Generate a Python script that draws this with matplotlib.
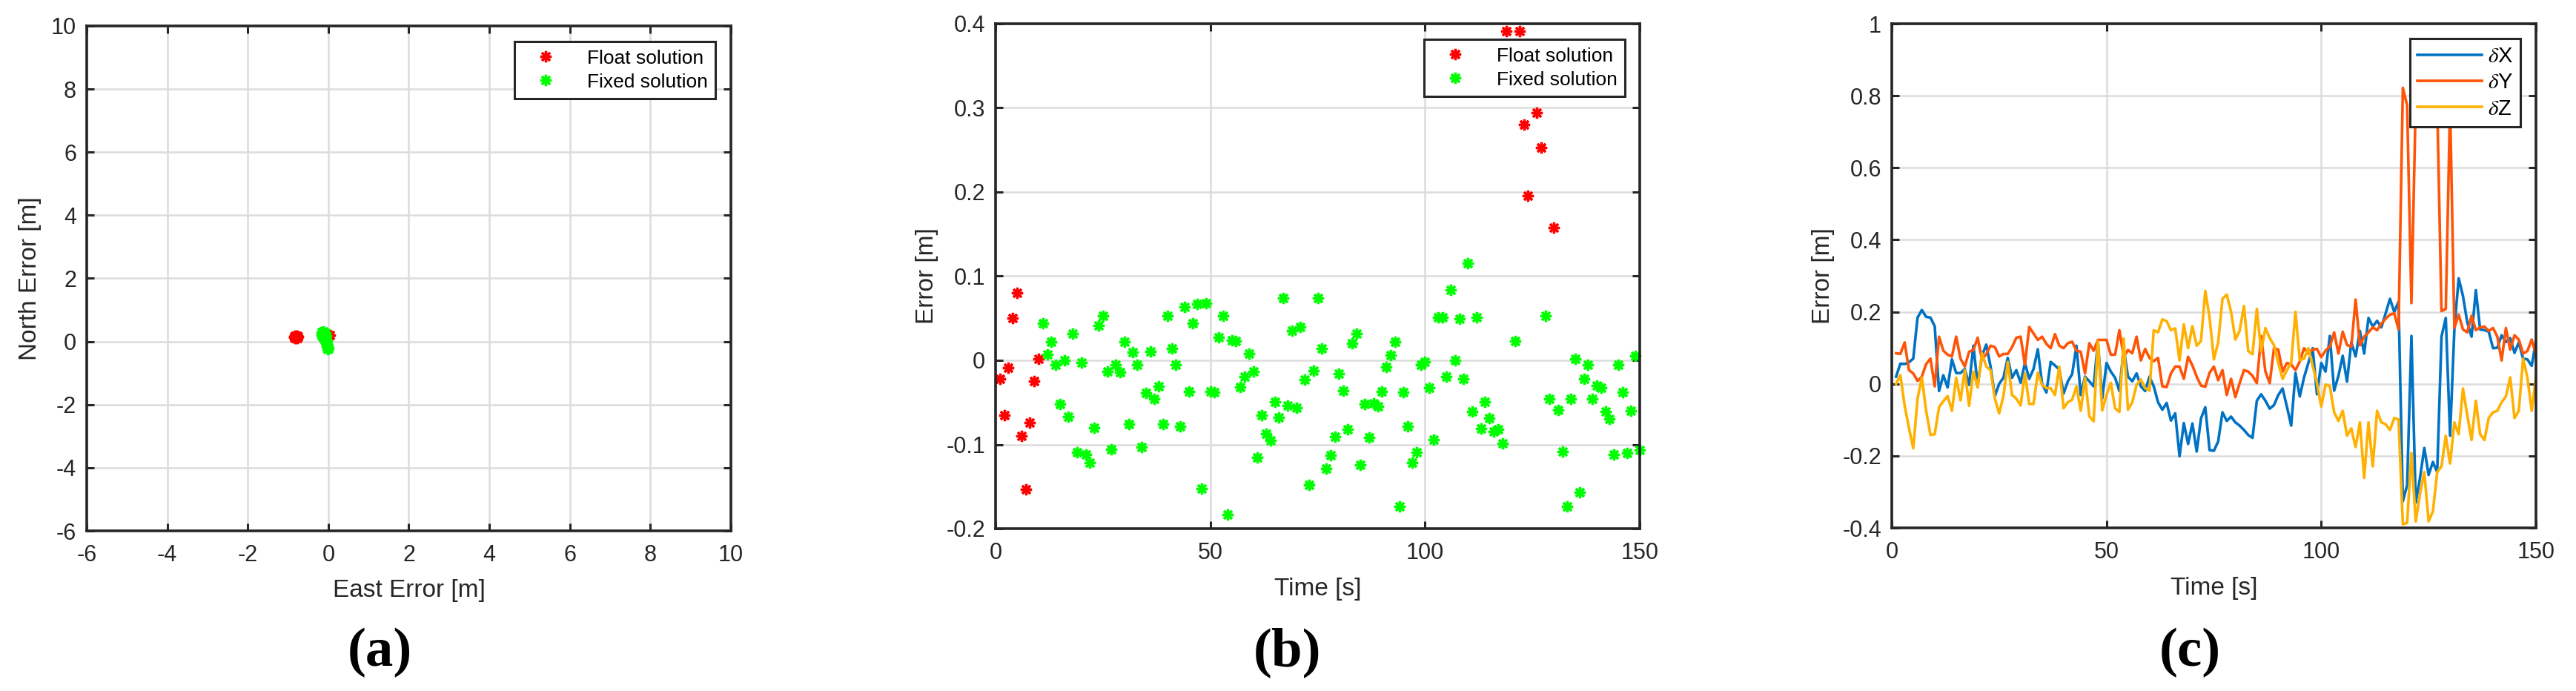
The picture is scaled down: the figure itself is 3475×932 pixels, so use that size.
import numpy as np
import matplotlib
matplotlib.use("Agg")
import matplotlib.pyplot as plt
from matplotlib.ticker import FuncFormatter

plt.rcParams['font.family'] = ['Liberation Sans', 'DejaVu Sans']
plt.rcParams['mathtext.fontset'] = 'stix'
plt.rcParams['axes.unicode_minus'] = False

# (a) east / north error
float_east = [-0.85, -0.80, -0.78, -0.83, -0.76, -0.82, -0.79, -0.81, -0.77, -0.84, 0.03, 0.01, -0.01]
float_north = [0.14, 0.18, 0.12, 0.10, 0.15, 0.17, 0.13, 0.11, 0.19, 0.16, 0.20, 0.17, 0.22]
fixed_east = [-0.17, -0.15, -0.12, -0.10, -0.14, -0.11, -0.08, -0.09, -0.06, -0.07, -0.05,
              -0.04, -0.06, -0.03, -0.02, -0.04, -0.01, 0.0, -0.02, -0.05, -0.13, -0.16]
fixed_north = [0.30, 0.25, 0.33, 0.20, 0.15, 0.10, 0.27, 0.05, 0.0, 0.12, -0.05,
               -0.10, 0.06, -0.15, -0.20, -0.02, -0.25, -0.22, -0.12, 0.18, 0.22, 0.20]

# (b) error vs time
float_t = [1, 2, 3, 4, 5, 6, 7, 8, 9, 10, 119, 122, 123, 124, 126, 127, 130]
float_err = [-0.022, -0.065, -0.009, 0.050, 0.080, -0.090, -0.153, -0.074, -0.025, 0.002,
             0.391, 0.391, 0.280, 0.196, 0.294, 0.253, 0.158]
fixed_t = list(range(11, 119)) + [121, 128, 129] + list(range(131, 151))
fixed_err = [0.044, 0.007, 0.022, -0.005, -0.052, 0.0, -0.067, 0.032, -0.109, -0.003,
             -0.112, -0.122, -0.080, 0.041, 0.053, -0.013, -0.106, -0.005, -0.014, 0.022,
             -0.076, 0.010, -0.005, -0.103, -0.039, 0.011, -0.046, -0.031, -0.076, 0.053,
             0.014, -0.005, -0.078, 0.063, -0.037, 0.044, 0.067, -0.152, 0.068, -0.037,
             -0.038, 0.027, 0.053, -0.183, 0.024, 0.023, -0.032, -0.019, 0.008, -0.013,
             -0.115, -0.065, -0.087, -0.095, -0.049, -0.068, 0.074, -0.054, 0.035, -0.056,
             0.040, -0.023, -0.148, -0.012, 0.074, 0.014, -0.129, -0.113, -0.091, -0.016,
             -0.036, -0.082, 0.020, 0.032, -0.124, -0.052, -0.092, -0.051, -0.055, -0.037,
             -0.008, 0.006, 0.022, -0.174, -0.038, -0.078, -0.122, -0.109, -0.005, -0.002,
             -0.033, -0.094, 0.051, 0.051, -0.019, 0.084, 0.0, 0.049, -0.022, 0.115,
             -0.061, 0.051, -0.081, -0.049, -0.069, -0.085, -0.082, -0.099,
             0.023, 0.053, -0.046,
             -0.059, -0.108, -0.174, -0.046, 0.002, -0.157, -0.022, -0.005, -0.046, -0.030,
             -0.033, -0.061, -0.070, -0.112, -0.005, -0.038, -0.110, -0.060, 0.005, -0.107]

# (c) dX dY dZ vs time
time_c = list(range(1, 151))
dx = [0.02, 0.056, 0.055, 0.06, 0.07, 0.184, 0.205, 0.186, 0.184, 0.16,
      -0.02, 0.024, -0.01, 0.068, 0.03, 0.03, 0.041, -0.003, 0.106, -0.003,
      0.078, 0.109, 0.048, -0.034, 0.0, 0.017, 0.072, 0.017, 0.038, 0.003,
      0.058, 0.014, 0.041, 0.096, 0.0, -0.024, 0.061, 0.051, 0.04, -0.027,
      0.007, 0.027, 0.106, -0.031, 0.02, 0.007, -0.007, 0.116, -0.041, 0.058,
      0.034, 0.017, -0.02, 0.099, 0.02, 0.007, 0.029, -0.007, -0.02, 0.02,
      -0.007, -0.051, -0.072, -0.053, -0.102, -0.082, -0.201, -0.109, -0.167, -0.11,
      -0.188, -0.096, -0.065, -0.184, -0.186,
      -0.16, -0.079, -0.103, -0.091, -0.107, -0.116, -0.128, -0.142, -0.15, -0.047,
      -0.029, -0.047, -0.069, -0.059, -0.031, -0.013, -0.063, -0.116, 0.03, -0.035,
      0.018, 0.058, 0.099, -0.029, 0.058, 0.034, 0.133, -0.019, 0.022, 0.078,
      0.006, 0.116, 0.076, 0.147, 0.084, 0.183, 0.159, 0.175, 0.157, 0.196,
      0.236, 0.2, 0.228, -0.326, -0.281, 0.133, -0.33, -0.261, -0.178, -0.253,
      -0.217, -0.245, 0.131, 0.183, -0.144, 0.151, 0.293, 0.244, 0.171, 0.131,
      0.26, 0.151, 0.149, 0.145, 0.099, 0.1, 0.135, 0.116, 0.127, 0.086,
      0.115, 0.07, 0.068, 0.05, 0.119]
dy = [0.085, 0.083, 0.115, 0.038, 0.029, 0.008, 0.02, 0.055, 0.07, -0.007,
      0.131, 0.092, 0.081, 0.076, 0.131, 0.07, 0.048, 0.089, 0.094, 0.128,
      0.068, 0.082, 0.106, 0.102, 0.076, 0.083, 0.083, 0.102, 0.128, 0.131,
      0.053, 0.158, 0.14, 0.122, 0.131, 0.111, 0.099, 0.138, 0.106, 0.099,
      0.113, 0.117, 0.092, 0.089, 0.029, 0.113, 0.092, 0.122, 0.122, 0.122,
      0.081, 0.081, 0.149, 0.075, 0.094, 0.085, 0.131, 0.065, 0.097, 0.072,
      0.063, 0.072, -0.007, -0.009, 0.029, 0.048, 0.048, 0.014, 0.075, 0.051,
      0.02, -0.005, -0.008, 0.031, 0.048,
      0.01, 0.038, -0.031, 0.014, -0.037, 0.002, 0.038, 0.034, 0.022, 0.002,
      0.133, 0.034, 0.002, 0.099, 0.095, 0.034, 0.058, 0.054, 0.038, 0.062,
      0.099, 0.084, 0.095, 0.097, 0.074, 0.092, 0.103, 0.143, 0.084, 0.145,
      0.108, 0.103, 0.234, 0.107, 0.131, 0.143, 0.157, 0.149, 0.167, 0.181,
      0.192, 0.196, 0.151, 0.822, 0.773, 0.224, 0.785, 0.79, 0.81, 0.8,
      0.79, 0.78, 0.202, 0.208, 0.777, 0.155, 0.192, 0.151, 0.143, 0.189,
      0.149, 0.157, 0.159, 0.147, 0.155, 0.131, 0.065, 0.155, 0.095, 0.135,
      0.123, 0.084, 0.091, 0.123, 0.082]
dz = [0.0, 0.024, -0.061, -0.123, -0.179, -0.041, 0.017, -0.075, -0.142, -0.14,
      -0.065, -0.048, -0.034, -0.075, 0.017, -0.046, 0.038, -0.061, 0.034, -0.01,
      0.085, 0.048, 0.038, -0.041, -0.082, -0.034, 0.061, -0.031, -0.041, -0.06,
      0.029, -0.056, -0.056, 0.031, -0.003, -0.012, -0.012, -0.031, 0.048, -0.068,
      -0.051, -0.044, -0.007, -0.075, 0.017, -0.09, -0.104, 0.119, -0.074, -0.031,
      0.003, -0.068, -0.078, 0.126, -0.072, -0.051, -0.003, 0.012, -0.012, -0.019,
      0.149, 0.143, 0.179, 0.174, 0.149, 0.154, 0.065, 0.165, 0.099, 0.16,
      0.106, 0.119, 0.258, 0.184, 0.068,
      0.115, 0.236, 0.248, 0.2, 0.123, 0.147, 0.216, 0.091, 0.082, 0.208,
      0.09, 0.155, 0.127, 0.107, 0.058, 0.014, 0.038, 0.058, 0.2, 0.066,
      0.07, 0.099, 0.05, 0.002, -0.063, -0.002, -0.006, -0.079, -0.103, -0.075,
      -0.144, -0.124, -0.176, -0.107, -0.261, -0.107, -0.229, -0.075, -0.107, -0.112,
      -0.128, -0.095, -0.099, -0.39, -0.386, -0.192, -0.382, -0.305, -0.245, -0.382,
      -0.354, -0.245, -0.229, -0.144, -0.221, -0.107, -0.14, -0.013, -0.087, -0.156,
      -0.047, -0.14, -0.156, -0.095, -0.079, -0.075, -0.051, -0.035, 0.018, -0.095,
      -0.075, 0.07, 0.018, -0.075, 0.018]

W, H = 3475, 932
fig = plt.figure(figsize=(W / 100, H / 100), dpi=100)

def px_axes(left, top, right, bottom):
    return fig.add_axes([left / W, 1 - bottom / H, (right - left) / W, (bottom - top) / H])

def style(ax):
    for s in ax.spines.values():
        s.set_linewidth(2.6)
        s.set_color('#262626')
    ax.tick_params(direction='in', top=True, right=True, length=7, width=2.2,
                   colors='#262626', labelsize=22, labelcolor='#262626')
    ax.tick_params(axis='x', pad=13)
    ax.tick_params(axis='y', pad=10)
    ax.grid(True, color='#dcdcdc', linewidth=1.8)
    ax.set_axisbelow(True)
    ax.yaxis.set_major_formatter(FuncFormatter(lambda v, p: '%g' % round(v, 6)))
    ax.xaxis.set_major_formatter(FuncFormatter(lambda v, p: '%g' % round(v, 6)))

def legend(ax, right, top, **kw):
    leg = ax.legend(loc='upper right', bbox_to_anchor=(right, top), borderaxespad=0,
                    fontsize=19, fancybox=False, framealpha=1, **kw)
    leg.get_frame().set_edgecolor('#262626')
    leg.get_frame().set_linewidth(2.2)
    return leg

star = (8, 2, 0)
mk = dict(linestyle='none', marker=star, markersize=11, markeredgewidth=2.4, clip_on=False)

# panel (a)
ax1 = px_axes(117, 35, 986, 716)
style(ax1)
ax1.plot(float_east, float_north, color='#ff0000', markeredgecolor='#ff0000', label='Float solution', **mk)
ax1.plot(fixed_east, fixed_north, color='#00ff00', markeredgecolor='#00ff00', label='Fixed solution', **mk)
ax1.set_xlim(-6, 10)
ax1.set_ylim(-6, 10)
ax1.set_xticks(np.arange(-6, 11, 2))
ax1.set_yticks(np.arange(-6, 11, 2))
ax1.set_xlabel('East Error [m]', fontsize=24, color='#262626', va='center')
ax1.set_ylabel('North Error [m]', fontsize=24, color='#262626', va='center')
ax1.xaxis.set_label_coords(0.5, -0.1175)
ax1.yaxis.set_label_coords(-0.0875, 0.5)
legend(ax1, 0.976, 0.969, handlelength=2.4, handletextpad=0.9, labelspacing=0.3)

# panel (b)
ax2 = px_axes(1343, 32, 2212, 713)
style(ax2)
ax2.plot(float_t, float_err, color='#ff0000', markeredgecolor='#ff0000', label='Float solution', **mk)
ax2.plot(fixed_t, fixed_err, color='#00ff00', markeredgecolor='#00ff00', label='Fixed solution', **mk)
ax2.set_xlim(0, 150)
ax2.set_ylim(-0.2, 0.4)
ax2.set_xticks([0, 50, 100, 150])
ax2.set_yticks(np.arange(-0.2, 0.41, 0.1))
ax2.set_xlabel('Time [s]', fontsize=24, color='#262626', va='center')
ax2.set_ylabel('Error [m]', fontsize=24, color='#262626', va='center')
ax2.xaxis.set_label_coords(0.5, -0.12)
ax2.yaxis.set_label_coords(-0.107, 0.5)
legend(ax2, 0.977, 0.969, handlelength=2.4, handletextpad=0.9, labelspacing=0.3)

# panel (c)
ax3 = px_axes(2552, 32, 3421, 712)
style(ax3)
ax3.plot(time_c, dx, color='#0072c4', linewidth=2.6, label=r'$\delta$X')
ax3.plot(time_c, dy, color='#ff5408', linewidth=2.6, label=r'$\delta$Y')
ax3.plot(time_c, dz, color='#ffb000', linewidth=2.6, label=r'$\delta$Z')
ax3.set_xlim(0, 150)
ax3.set_ylim(-0.4, 1)
ax3.set_xticks([0, 50, 100, 150])
ax3.set_yticks(np.arange(-0.4, 1.01, 0.2))
ax3.set_xlabel('Time [s]', fontsize=24, color='#262626', va='center')
ax3.set_ylabel('Error [m]', fontsize=24, color='#262626', va='center')
ax3.xaxis.set_label_coords(0.5, -0.12)
ax3.yaxis.set_label_coords(-0.107, 0.5)
legend(ax3, 0.976, 0.971, handlelength=3.0, handletextpad=0.25, labelspacing=0.25,
       borderpad=0.35, prop={'size': 21})

# sub-figure tags
for x, tag in [(512, '(a)'), (1736, '(b)'), (2954, '(c)')]:
    fig.text(x / W, 1 - 880 / H, tag, ha='center', va='center', fontsize=54,
             fontweight='bold', family='Liberation Serif')

fig.savefig('out.png', dpi=100, facecolor='white')
